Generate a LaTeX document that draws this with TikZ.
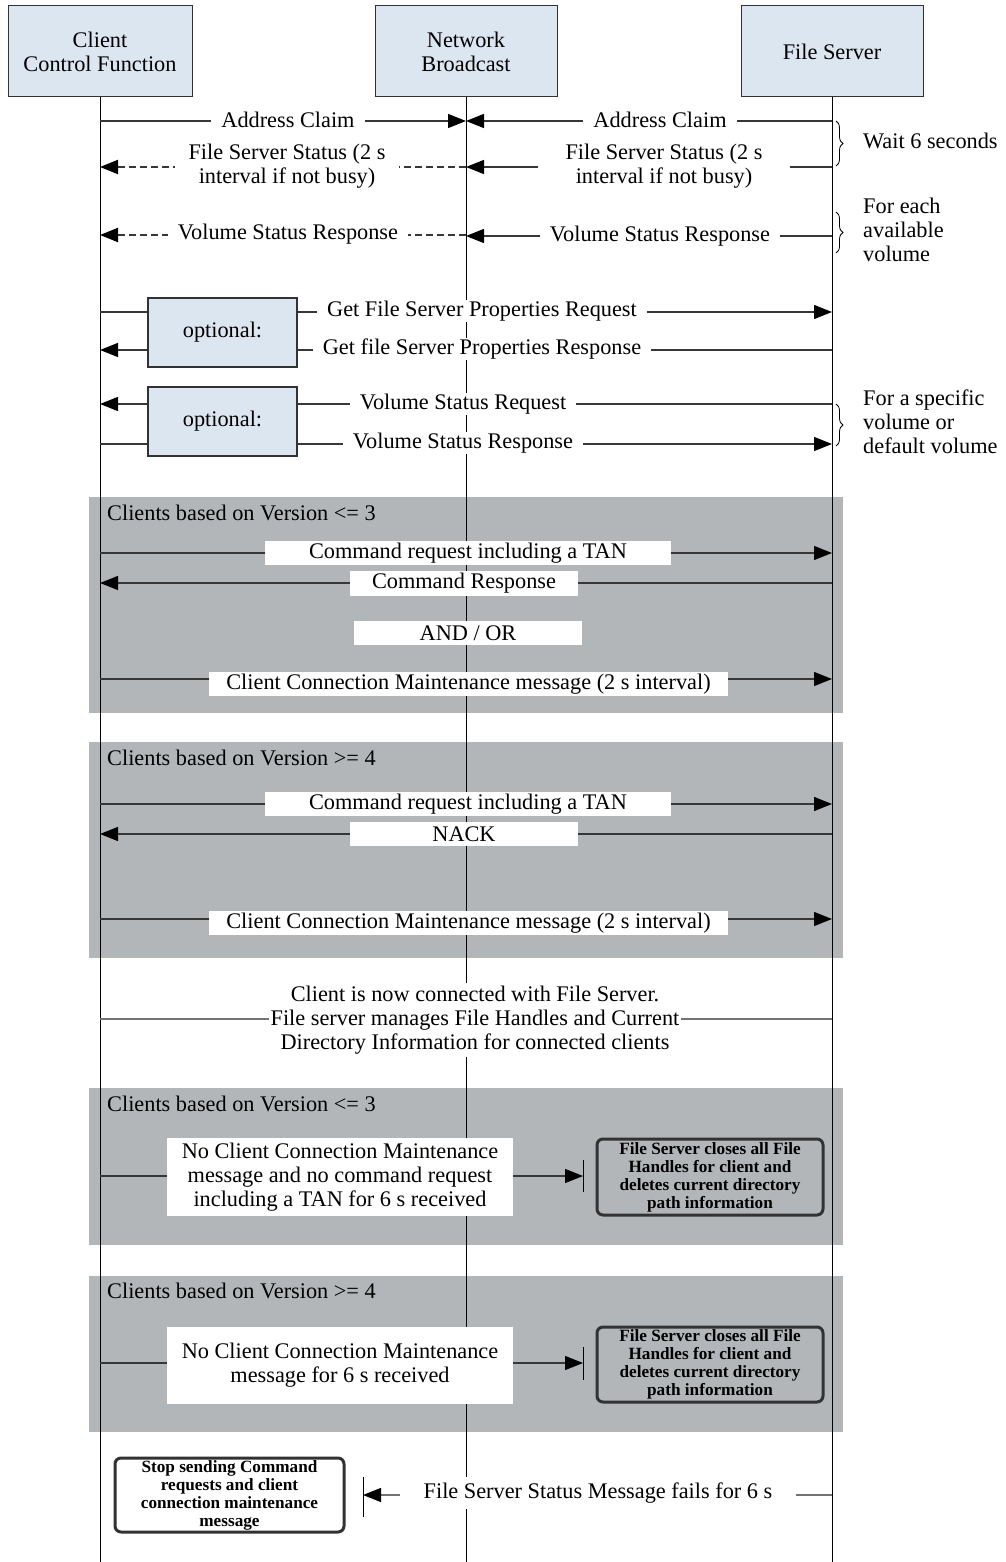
\documentclass[tikz,border=0pt]{standalone}
\usepackage{fontspec}
\setmainfont{Liberation Serif}
\usetikzlibrary{arrows.meta,decorations.pathreplacing}
\definecolor{hdr}{RGB}{220,230,241}
\definecolor{frm}{RGB}{179,182,184}
\definecolor{ln}{RGB}{55,55,55}
\definecolor{bdr}{RGB}{50,50,50}
\newcommand{\msgfont}{\fontsize{22.3}{24}\selectfont}
\newcommand{\bsmall}{\fontsize{17.2}{18}\selectfont\bfseries}
\begin{document}
\begin{tikzpicture}[x=1pt,y=-1pt,
  hdrbox/.style={draw=bdr,fill=hdr,line width=1pt,align=center,font=\msgfont,inner sep=0pt},
  lifeline/.style={black,line width=0.9pt},
  msg/.style={ln,line width=1.3pt},
  tip/.style={-{Triangle[length=18pt,width=14pt,color=black]}},
  dmsg/.style={ln,line width=2pt,dash pattern=on 7pt off 4pt},
  lbl/.style={fill=white,font=\msgfont,align=center,inner xsep=10pt,inner ysep=1pt},
  frame/.style={fill=frm,draw=none,inner sep=0pt},
  wbox/.style={fill=white,font=\msgfont,align=center,inner sep=0pt},
  optbox/.style={draw=bdr,fill=hdr,line width=1.6pt,font=\msgfont,inner sep=0pt},
  rbox/.style={draw=bdr,line width=3pt,rounded corners=6pt,font=\bsmall,align=center,inner sep=0pt},
  note/.style={font=\msgfont,align=left,anchor=west,inner sep=0pt},
  ftitle/.style={font=\msgfont,anchor=west,inner sep=0pt},
  brc/.style={decorate,decoration={brace,amplitude=7pt},line width=0.8pt},
  bar/.style={black,line width=0.9pt}]
\useasboundingbox[fill=white] (0,0) rectangle (1005,1562);

% grey frames
\node[frame,minimum width=754pt,minimum height=216pt] (f1) at (466,605) {};
\node[frame,minimum width=754pt,minimum height=216pt] (f2) at (466,850) {};
\node[frame,minimum width=754pt,minimum height=157pt] (f3) at (466,1166.5) {};
\node[frame,minimum width=754pt,minimum height=156pt] (f4) at (466,1354) {};

% header boxes
\node[hdrbox,minimum width=184pt,minimum height=91pt] (cl) at (100,51.5) {Client\\Control Function};
\node[hdrbox,minimum width=182pt,minimum height=91pt] (nb) at (466,51.5) {Network\\Broadcast};
\node[hdrbox,minimum width=182pt,minimum height=91pt] (fs) at (832,51.5) {File Server};

% lifelines
\coordinate (clend) at (100,1562);
\coordinate (nbend) at (466,1562);
\coordinate (fsend) at (832,1562);
\draw[lifeline] (cl.south) -- (clend);
\draw[lifeline] (nb.south) -- (nbend);
\draw[lifeline] (fs.south) -- (fsend);

% Address claim
\draw[msg,tip] (cl |- 0,121) -- (nb |- 0,121);
\node[lbl] (ac1) at (288,120) {Address Claim};
\draw[msg,tip] (fs |- 0,121) -- (nb |- 0,121);
\node[lbl] (ac2) at (660,120) {Address Claim};

% File server status
\draw[msg,tip] (fs |- 0,167) -- (nb |- 0,167);
\node[lbl,inner xsep=28pt] (fss2) at (664,166) {File Server Status (2 s\\interval if not busy)};
\draw[dmsg,tip] (nb |- 0,167) -- (cl |- 0,167);
\node[lbl,inner xsep=14pt] (fss1) at (287,166) {File Server Status (2 s\\interval if not busy)};

% Volume status response
\draw[msg,tip] (fs |- 0,236) -- (nb |- 0,236);
\node[lbl] (vsr2) at (660,236) {Volume Status Response};
\draw[dmsg,tip] (nb |- 0,235) -- (cl |- 0,235);
\node[lbl] (vsr1) at (288,234) {Volume Status Response};

% braces
\draw[brc] (836,121) -- (836,166);
\node[note] (w6) at (863,141) {Wait 6 seconds};
\draw[brc] (836,212) -- (836,253);
\node[note] (fea) at (863,230) {For each\\available\\volume};
\draw[brc] (836,404) -- (836,446);
\node[note] (fsv) at (863,422) {For a specific\\volume or\\default volume};

% optional 1
\node[optbox,minimum width=149pt,minimum height=69pt] (op1) at (222.5,332.5) {optional:};
\draw[msg] (cl |- 0,312) -- (op1.west |- 0,312);
\draw[msg,tip] (op1.east |- 0,312) -- (fs |- 0,312);
\node[lbl] (gfq) at (482,311) {Get File Server Properties Request};
\draw[msg] (fs |- 0,350) -- (op1.east |- 0,350);
\draw[msg,tip] (op1.west |- 0,350) -- (cl |- 0,350);
\node[lbl] (gfr) at (482,349) {Get file Server Properties Response};

% optional 2
\node[optbox,minimum width=149pt,minimum height=69pt] (op2) at (222.5,421.5) {optional:};
\draw[msg] (fs |- 0,404) -- (op2.east |- 0,404);
\draw[msg,tip] (op2.west |- 0,404) -- (cl |- 0,404);
\node[lbl] (vsq) at (463,404) {Volume Status Request};
\draw[msg] (cl |- 0,444) -- (op2.west |- 0,444);
\draw[msg,tip] (op2.east |- 0,444) -- (fs |- 0,444);
\node[lbl] (vsp) at (463,443) {Volume Status Response};

% frame 1
\node[ftitle] (f1t) at (107,513) {Clients based on Version <= 3};
\draw[msg,tip] (cl |- 0,553) -- (fs |- 0,553);
\node[wbox,minimum width=406pt,minimum height=24pt] (a1) at (468,553) {Command request including a TAN};
\draw[msg,tip] (fs |- 0,583) -- (cl |- 0,583);
\node[wbox,minimum width=228pt,minimum height=25pt] (a2) at (464,583.5) {Command Response};
\node[wbox,minimum width=228pt,minimum height=24pt] (a3) at (468,633) {AND / OR};
\draw[msg,tip] (cl |- 0,679) -- (fs |- 0,679);
\node[wbox,minimum width=519pt,minimum height=24pt] (a4) at (468.5,684) {Client Connection Maintenance message (2 s interval)};

% frame 2
\node[ftitle] (f2t) at (107,758) {Clients based on Version >= 4};
\draw[msg,tip] (cl |- 0,804) -- (fs |- 0,804);
\node[wbox,minimum width=406pt,minimum height=24pt] (b1) at (468,804) {Command request including a TAN};
\draw[msg,tip] (fs |- 0,834) -- (cl |- 0,834);
\node[wbox,minimum width=228pt,minimum height=24pt] (b2) at (464,834) {NACK};
\draw[msg,tip] (cl |- 0,919) -- (fs |- 0,919);
\node[wbox,minimum width=519pt,minimum height=24pt] (b3) at (468.5,923) {Client Connection Maintenance message (2 s interval)};

% connected
\draw[msg,line width=1.6pt,draw=black!55] (cl |- 0,1019) -- (fs |- 0,1019);
\node[wbox,inner xsep=2pt,inner ysep=3pt] (conn) at (475,1020) {Client is now connected with File Server.\\File server manages File Handles and Current\\Directory Information for connected clients};

% frame 3
\node[ftitle] (f3t) at (107,1104) {Clients based on Version <= 3};
\node[wbox,minimum width=346pt,minimum height=78pt] (t3) at (340,1177) {No Client Connection Maintenance\\message and no command request\\including a TAN for 6 s received};
\coordinate (bar3t) at (583,1160);
\coordinate (bar3b) at (583,1192);
\draw[bar] (bar3t) -- (bar3b);
\draw[msg] (cl |- 0,1176) -- (t3.west |- 0,1176);
\draw[msg,tip] (t3.east |- 0,1176) -- (bar3t |- 0,1176);
\node[rbox,minimum width=226pt,minimum height=76pt] (r3) at (710,1177) {File Server closes all File\\Handles for client and\\deletes current directory\\path information};

% frame 4
\node[ftitle] (f4t) at (107,1291) {Clients based on Version >= 4};
\node[wbox,minimum width=346pt,minimum height=77pt] (t4) at (340,1365.5) {No Client Connection Maintenance\\message for 6 s received};
\coordinate (bar4t) at (583,1347);
\coordinate (bar4b) at (583,1380);
\draw[bar] (bar4t) -- (bar4b);
\draw[msg] (cl |- 0,1363) -- (t4.west |- 0,1363);
\draw[msg,tip] (t4.east |- 0,1363) -- (bar4t |- 0,1363);
\node[rbox,minimum width=226pt,minimum height=75pt] (r4) at (710,1364.5) {File Server closes all File\\Handles for client and\\deletes current directory\\path information};

% bottom
\node[rbox,fill=white,minimum width=229pt,minimum height=74pt] (stop) at (229.5,1495) {Stop sending Command\\requests and client\\connection maintenance\\message};
\coordinate (bar5t) at (363,1477);
\coordinate (bar5b) at (363,1517);
\draw[bar] (bar5t) -- (bar5b);
\draw[msg,draw=black!55,tip] (fs |- 0,1495) -- (bar5t |- 0,1495);
\node[lbl,inner xsep=24pt,inner ysep=6pt] (fsf) at (598,1493) {File Server Status Message fails for 6 s};
\end{tikzpicture}
\end{document}
